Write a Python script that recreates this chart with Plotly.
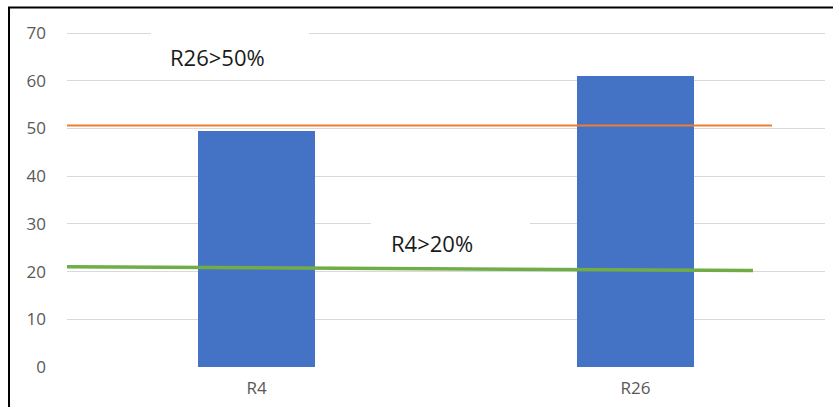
import plotly.graph_objects as go

# Category bars
categories = ["R4", "R26"]
bar_values = [49.5, 61.0]
category_pos = [0, 1]

# Threshold lines (x in category units, y in chart units)
orange_x = [-0.5, 1.36]
orange_y = [50.6, 50.6]
green_x = [-0.5, 1.31]
green_y = [21.0, 20.2]

# Threshold labels
label_texts = ["R26>50%", "R4>20%"]
label_x = [-0.103, 0.462]
label_y = [64.9, 25.9]

y_ticks = [0, 10, 20, 30, 40, 50, 60, 70]

fig = go.Figure()

fig.add_trace(go.Bar(
    x=category_pos, y=bar_values, width=0.31,
    marker=dict(color="#4472C4", line=dict(width=0)),
    hoverinfo="skip", showlegend=False,
))
fig.add_trace(go.Scatter(
    x=orange_x, y=orange_y, mode="lines",
    line=dict(color="#ED7D31", width=2), showlegend=False, hoverinfo="skip",
))
fig.add_trace(go.Scatter(
    x=green_x, y=green_y, mode="lines",
    line=dict(color="#70AD47", width=3.5), showlegend=False, hoverinfo="skip",
))

annotations = []
# White text boxes that hide the gridlines behind each label
for bx, by, bw, bh in [(-0.070, 66.7, 158, 47), (0.512, 27.5, 159, 43)]:
    annotations.append(dict(x=bx, y=by, xref="x", yref="y", text=" ", showarrow=False,
                            width=bw, height=bh, bgcolor="white", borderpad=0,
                            borderwidth=0, xanchor="center", yanchor="middle"))
for t, ax, ay in zip(label_texts, label_x, label_y):
    annotations.append(dict(x=ax, y=ay, xref="x", yref="y", text=t, showarrow=False,
                            font=dict(family="Open Sans", size=22, color="#1a1a1a"),
                            xanchor="center", yanchor="middle"))

# Outer frame
shapes = [dict(type="rect", xref="paper", yref="paper",
               x0=-0.0765, x1=1.1, y0=-0.3, y1=1.07,
               line=dict(color="black", width=2), fillcolor="rgba(0,0,0,0)",
               layer="below")]

fig.update_layout(
    width=833, height=407,
    margin=dict(l=67, r=8, t=31, b=40),
    paper_bgcolor="white", plot_bgcolor="white",
    shapes=shapes, annotations=annotations,
    font=dict(family="Open Sans", color="#595959", size=17),
    xaxis=dict(range=[-0.5, 1.5], tickvals=category_pos, ticktext=categories,
               showgrid=False, zeroline=False, showline=False,
               ticks="", ticklabelstandoff=9, fixedrange=True),
    # headroom above 70 so the top gridline is drawn inside the plot area
    yaxis=dict(range=[0, 70.42], tickvals=y_ticks, showgrid=True, gridcolor="#d9d9d9",
               gridwidth=1, zeroline=False, showline=False, ticks="",
               ticklabelstandoff=20, fixedrange=True),
    bargap=0,
)

fig.write_html("out.html", config={"displayModeBar": False})
